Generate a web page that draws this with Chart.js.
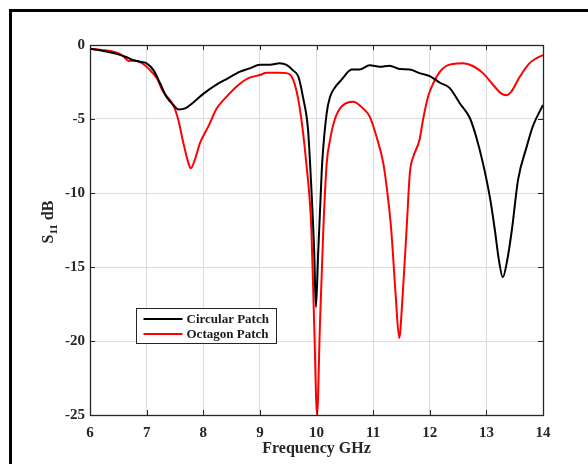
<!DOCTYPE html>
<html>
<head>
<meta charset="utf-8">
<script src="https://cdn.jsdelivr.net/npm/chart.js@4"></script>
<style>
  html, body { margin: 0; padding: 0; background: #fff; }
  #wrap { position: relative; width: 588px; height: 464px; overflow: hidden; }
  #frame { position: absolute; left: 9px; top: 9px; width: 700px; height: 600px;
           border-left: 3px solid #000; border-top: 3px solid #000; }
  #s11 { position: absolute; left: 0; top: 0; }
</style>
</head>
<body>
<div id="wrap">
  <div id="frame"></div>
  <canvas id="s11" width="588" height="464"></canvas>
</div>
<script>
// frequency (GHz) / S11 (dB)
const circFreq = [6.0, 6.24, 6.47, 6.65, 6.74, 6.91, 7.0, 7.12, 7.24, 7.35, 7.47, 7.56, 7.68, 7.82, 8.0, 8.24, 8.41, 8.65, 8.82, 9.0, 9.18, 9.35, 9.47, 9.59, 9.68, 9.76, 9.85, 9.9, 9.96, 9.99, 10.03, 10.07, 10.1, 10.18, 10.24, 10.32, 10.44, 10.56, 10.62, 10.76, 10.94, 11.12, 11.29, 11.47, 11.65, 11.82, 12.0, 12.18, 12.35, 12.53, 12.71, 12.82, 12.94, 13.06, 13.15, 13.22, 13.29, 13.37, 13.45, 13.56, 13.71, 13.82, 14.0];
const circS11 = [-0.25, -0.4, -0.6, -0.83, -1.0, -1.15, -1.24, -1.7, -2.6, -3.5, -4.05, -4.35, -4.28, -3.9, -3.3, -2.66, -2.3, -1.8, -1.58, -1.33, -1.33, -1.24, -1.35, -1.73, -2.14, -3.5, -5.7, -9.0, -14.0, -17.7, -14.0, -10.5, -8.0, -4.6, -3.5, -2.9, -2.36, -1.8, -1.65, -1.65, -1.37, -1.47, -1.4, -1.62, -1.65, -1.9, -2.1, -2.55, -2.9, -3.94, -4.95, -6.2, -8.0, -10.25, -12.5, -14.5, -15.7, -14.5, -12.5, -9.1, -6.9, -5.5, -4.05];

const octFreq = [6.0, 6.2, 6.47, 6.59, 6.68, 6.79, 6.91, 7.03, 7.18, 7.29, 7.47, 7.56, 7.65, 7.74, 7.78, 7.85, 7.94, 8.09, 8.24, 8.41, 8.59, 8.79, 9.0, 9.12, 9.35, 9.47, 9.59, 9.7, 9.82, 9.91, 9.96, 10.01, 10.06, 10.12, 10.18, 10.24, 10.32, 10.44, 10.65, 10.82, 10.94, 11.06, 11.18, 11.26, 11.32, 11.4, 11.46, 11.52, 11.59, 11.65, 11.71, 11.82, 11.88, 11.97, 12.06, 12.18, 12.29, 12.41, 12.59, 12.76, 12.94, 13.12, 13.26, 13.35, 13.44, 13.59, 13.76, 13.88, 14.0];
const octS11 = [-0.25, -0.33, -0.52, -0.75, -1.08, -1.06, -1.2, -1.58, -2.25, -3.15, -4.05, -5.07, -6.64, -8.0, -8.33, -7.77, -6.64, -5.5, -4.28, -3.5, -2.8, -2.25, -2.03, -1.87, -1.87, -1.9, -2.36, -4.17, -8.0, -12.5, -19.0, -25.0, -19.0, -12.5, -8.0, -6.4, -5.07, -4.17, -3.83, -4.28, -4.84, -6.2, -8.0, -10.25, -12.5, -17.0, -19.8, -17.0, -12.5, -8.6, -7.55, -6.4, -5.07, -3.5, -2.6, -1.8, -1.42, -1.28, -1.24, -1.42, -1.9, -2.7, -3.27, -3.4, -3.15, -2.14, -1.24, -0.9, -0.68];

const xTicks = [6, 7, 8, 9, 10, 11, 12, 13, 14];
const yTicks = [0, -5, -10, -15, -20, -25];

const serif = '"Liberation Serif", "Times New Roman", serif';

function toPoints(xs, ys) {
  return xs.map((x, i) => ({x: x, y: ys[i]}));
}

// box around the plot, inward ticks, floating legend and S11 label
const boxPlugin = {
  id: 'boxPlugin',
  afterDraw(chart) {
    const ctx = chart.ctx;
    const a = chart.chartArea;
    const xs = chart.scales.x, ys = chart.scales.y;
    ctx.save();
    ctx.strokeStyle = '#262626';
    ctx.lineWidth = 1;
    ctx.beginPath();
    xTicks.forEach(v => {
      const px = Math.round(xs.getPixelForValue(v)) + 0.5;
      ctx.moveTo(px, a.bottom); ctx.lineTo(px, a.bottom - 5);
      ctx.moveTo(px, a.top); ctx.lineTo(px, a.top + 5);
    });
    yTicks.forEach(v => {
      const py = Math.round(ys.getPixelForValue(v)) + 0.5;
      ctx.moveTo(a.left, py); ctx.lineTo(a.left + 5, py);
      ctx.moveTo(a.right, py); ctx.lineTo(a.right - 5, py);
    });
    ctx.stroke();
    ctx.lineWidth = 1.3;
    ctx.strokeRect(Math.round(a.left) + 0.5, Math.round(a.top) + 0.5,
                   Math.round(a.right - a.left), Math.round(a.bottom - a.top));

    // legend
    const lx = 136.5, ly = 308.5, lw = 140, lh = 35;
    ctx.fillStyle = '#fff';
    ctx.fillRect(lx, ly, lw, lh);
    ctx.strokeStyle = '#262626';
    ctx.lineWidth = 1;
    ctx.strokeRect(lx, ly, lw, lh);
    ctx.font = 'bold 13px ' + serif;
    ctx.textBaseline = 'middle';
    chart.data.datasets.forEach((ds, i) => {
      const yy = ly + 10.5 + i * 15;
      ctx.strokeStyle = ds.borderColor;
      ctx.lineWidth = 2;
      ctx.beginPath();
      ctx.moveTo(lx + 7, yy); ctx.lineTo(lx + 46, yy);
      ctx.stroke();
      ctx.fillStyle = '#1a1a1a';
      ctx.fillText(ds.label, lx + 50, yy + 0.5);
    });

    // y label with subscript
    ctx.translate(47, 222);
    ctx.rotate(-Math.PI / 2);
    ctx.fillStyle = '#262626';
    ctx.textBaseline = 'alphabetic';
    ctx.font = 'bold 16px ' + serif;
    const w1 = ctx.measureText('S').width;
    ctx.font = 'bold 11px ' + serif;
    const w2 = ctx.measureText('11').width;
    ctx.font = 'bold 16px ' + serif;
    const w3 = ctx.measureText(' dB').width;
    let x0 = -(w1 + w2 + w3) / 2;
    ctx.fillText('S', x0, 6);
    ctx.font = 'bold 11px ' + serif;
    ctx.fillText('11', x0 + w1, 10);
    ctx.font = 'bold 16px ' + serif;
    ctx.fillText(' dB', x0 + w1 + w2, 6);
    ctx.restore();
  }
};

new Chart(document.getElementById('s11'), {
  type: 'scatter',
  data: {
    datasets: [{
      label: 'Circular Patch',
      data: toPoints(circFreq, circS11),
      borderColor: '#000000',
      backgroundColor: '#000000',
      borderWidth: 2,
      showLine: true,
      pointRadius: 0,
      cubicInterpolationMode: 'monotone'
    }, {
      label: 'Octagon Patch',
      data: toPoints(octFreq, octS11),
      borderColor: '#ff0000',
      backgroundColor: '#ff0000',
      borderWidth: 2,
      showLine: true,
      pointRadius: 0,
      cubicInterpolationMode: 'monotone'
    }]
  },
  options: {
    responsive: false,
    animation: false,
    layout: { padding: { left: 0, top: 45, right: 45, bottom: 0 } },
    plugins: { legend: { display: false }, tooltip: { enabled: false } },
    scales: {
      x: {
        type: 'linear',
        min: 6, max: 14,
        afterBuildTicks: s => { s.ticks = xTicks.map(v => ({value: v})); },
        afterFit: s => { s.height = 49; },
        grid: { color: '#dcdcdc', drawTicks: false, drawBorder: false },
        border: { display: false },
        ticks: { padding: 9, color: '#262626', font: { family: serif, size: 15, weight: 'bold' } },
        title: {
          display: true, text: 'Frequency GHz', color: '#262626',
          font: { family: serif, size: 16, weight: 'bold' },
          padding: { top: 0, bottom: 6 }
        }
      },
      y: {
        type: 'linear',
        min: -25, max: 0,
        afterBuildTicks: s => { s.ticks = yTicks.map(v => ({value: v})); },
        afterFit: s => { s.width = 90; },
        grid: { color: '#dcdcdc', drawTicks: false },
        border: { display: false },
        ticks: { padding: 5, color: '#262626', font: { family: serif, size: 15, weight: 'bold' } }
      }
    }
  },
  plugins: [boxPlugin]
});
</script>
</body>
</html>
